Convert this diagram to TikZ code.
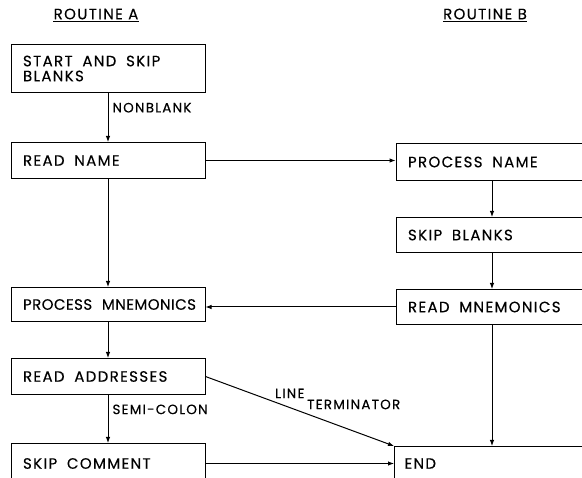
\documentclass[tikz,border=0pt]{standalone}
\usepackage{fontspec}
\setmainfont{Poppins}
\newfontfamily\labfont[LetterSpace=9,FakeBold=0.3]{Poppins}
\newfontfamily\tightfont[LetterSpace=3,FakeBold=0.3]{Poppins}
\newcommand\myboxfont{\labfont\fontsize{15}{15}\selectfont}
\newcommand\mysmallfont{\labfont\fontsize{13.5}{14}\selectfont}
\newcommand\mywidespace{\spaceskip 0.65em\relax}
\usetikzlibrary{arrows.meta,calc}
\begin{document}
\begin{tikzpicture}[x=1pt,y=-1pt,
  txt/.style={font=\myboxfont},
  smalltxt/.style={font=\mysmallfont,inner sep=0pt,anchor=west,align=left},
  box/.style={draw,line width=1pt,anchor=north west,inner ysep=0pt,align=left,txt,execute at begin node=\mywidespace},
  boxA/.style={box,minimum width=194pt,text width=170pt,inner xsep=12pt},
  boxB/.style={box,minimum width=192pt,text width=168pt,inner xsep=12pt},
  conn/.style={line width=1pt,-{Latex[length=6pt,width=4.5pt]}},
  title/.style={txt,inner xsep=0pt,inner ysep=2pt}]
\useasboundingbox (0,0) rectangle (582,478);
\clip (0,0) rectangle (582,478);
% titles
\node[title] (ta) at (96,14) {ROUTINE A};
\draw[line width=0.9pt] (ta.south west) -- (ta.south east);
\node[title] (tb) at (485,14) {ROUTINE B};
\draw[line width=0.9pt] (tb.south west) -- (tb.south east);
% routine A boxes
\node[boxA,minimum height=48pt] (sas) at (10.5,44) {START AND SKIP\\BLANKS};
\node[boxA,minimum height=36pt] (rn) at (10.5,142) {READ NAME};
\node[boxA,minimum height=34pt] (pm) at (10.5,287) {\mbox{\tightfont\fontsize{15}{15}\selectfont PROCESS MNEMONICS}};
\node[boxA,minimum height=36pt] (ra) at (10.5,358) {READ ADDRESSES};
\node[boxA,minimum height=40pt] (sc) at (10.5,443) {SKIP COMMENT};
% routine B boxes
\node[boxB,minimum height=37pt] (pn) at (395.5,143) {PROCESS NAME};
\node[boxB,minimum height=35pt] (sb) at (395.5,217) {SKIP BLANKS};
\node[boxB,minimum height=35pt] (rm) at (395.5,289) {READ MNEMONICS};
\node[box,minimum width=195pt,text width=175pt,inner xsep=10pt,minimum height=34pt] (end) at (394,446) {END};
% connectors
\draw[conn] (sas.south) -- node[smalltxt,pos=0.3,right=4pt] {NONBLANK} (rn.north);
\draw[conn] (rn.east) -- (rn.east -| pn.west);
\draw[conn] (pn.south) -- (sb.north);
\draw[conn] (sb.south) -- (rm.north);
\draw[conn] (rn.south) -- (pm.north);
\draw[conn] (rm.west) -- (rm.west -| pm.east);
\draw[conn] (pm.south) -- (ra.north);
\draw[conn] (ra.south) -- node[smalltxt,pos=0.3,right=4pt] {SEMI-COLON} (sc.north);
\draw[conn] (sc.east) -- (sc.east -| end.west);
\draw[conn] (rm.south) -- (end.north);
\draw[conn] (ra.east) -- (end.north west);
\node[smalltxt] (lt) at (275,399) {LINE\\[-3pt]\hspace*{32pt}TERMINATOR};
\end{tikzpicture}
\end{document}
